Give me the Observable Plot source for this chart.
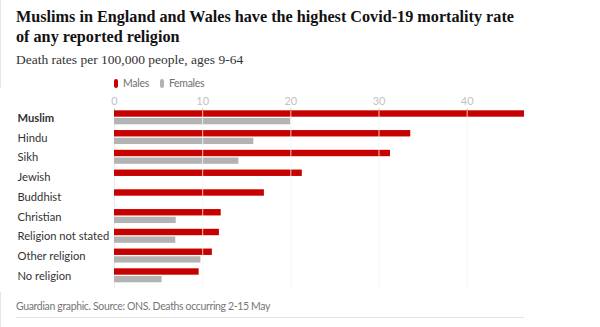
<!DOCTYPE html>
<html><head><meta charset="utf-8">
<script src="https://cdn.jsdelivr.net/npm/d3@7"></script>
<script src="https://cdn.jsdelivr.net/npm/@observablehq/plot@0.6"></script>
<style>
body{margin:0;background:#fff;}
#wrap{position:relative;width:600px;height:327px;overflow:hidden;background:#fff}
#lborder{position:absolute;left:0;top:0;width:1px;height:327px;background:#e6e6e6}
h1{position:absolute;left:16px;top:7px;margin:0;font:bold 16.2px/20px "Liberation Serif",serif;color:#121212;width:560px}
#sub{position:absolute;left:16px;top:52px;margin:0;font:13.5px/16px "Liberation Serif",serif;color:#333}
#legend{position:absolute;left:114px;top:76px;font:10.5px/14px Lato,sans-serif;color:#707070;display:flex;align-items:center;letter-spacing:-0.3px}
#legend .sw{display:inline-block;width:4px;height:9px;border-radius:2px;margin-right:5px}
#legend .it{display:flex;align-items:center;margin-right:11px}
#chart{position:absolute;left:0;top:88px}
#foot{position:absolute;left:16px;top:299px;font:10.5px/14px Lato,sans-serif;color:#767676;letter-spacing:-0.35px}
#hr{position:absolute;left:16px;top:317px;width:508px;height:1px;background:#e3e3e3}
</style></head>
<body>
<div id="wrap">
<div id="lborder"></div>
<h1>Muslims in England and Wales have the highest Covid-19 mortality rate<br>of any reported religion</h1>
<div id="sub">Death rates per 100,000 people, ages 9-64</div>
<div id="legend"></div>
<div id="chart"></div>
<div id="foot">Guardian graphic. Source: ONS. Deaths occurring 2-15 May</div>
<div id="hr"></div>
</div>
<script>
const religions = ["Muslim","Hindu","Sikh","Jewish","Buddhist","Christian","Religion not stated","Other religion","No religion"];
const males = [46.5,33.6,31.3,21.3,17.0,12.1,11.9,11.1,9.6];
const females = [20.0,15.8,14.1,null,null,7.0,6.95,9.8,5.4];
const seriesNames = ["Males","Females"];
const seriesColors = ["#c70000","#b3b3b3"];
const xTicks = [0,10,20,30,40];

const rows = religions.map((r,i)=>({religion:r, male:males[i], female:females[i]}));

const legend = document.getElementById("legend");
seriesNames.forEach((n,i)=>{
  const it = document.createElement("span"); it.className="it";
  const sw = document.createElement("span"); sw.className="sw"; sw.style.background=seriesColors[i];
  it.appendChild(sw); it.appendChild(document.createTextNode(n));
  legend.appendChild(it);
});

const step = 19.75, mTop = 22.3, mBottom = 4;
const chart = Plot.plot({
  width: 600,
  height: mTop + step*religions.length + mBottom,
  marginLeft: 114, marginRight: 76, marginTop: mTop, marginBottom: mBottom,
  style: {fontFamily: "Lato, sans-serif", background: "#fff"},
  x: {domain: [0, d3.max(males)]},
  y: {domain: religions, padding: 0, round: false, axis: null},
  marks: [
    Plot.ruleX(xTicks, {stroke: "#ececec", strokeWidth: 1}),
    Plot.axisX(xTicks, {anchor: "top", tickSize: 3, tickPadding: 3, color: "#c2c2c2", fontSize: 11, tickFormat: d => d}),
    Plot.barX(rows, {x: "male", y: "religion", fill: seriesColors[0], insetTop: 0, insetBottom: 13.35}),
    Plot.barX(rows.filter(d => d.female != null), {x: "female", y: "religion", fill: seriesColors[1], insetTop: 7.7, insetBottom: 5.75}),
    Plot.ruleX(xTicks.slice(1), {stroke: "#fff", strokeOpacity: 0.75, strokeWidth: 1}),
    Plot.text(rows.filter(d => d.religion === "Muslim"), {y: "religion", text: "religion", frameAnchor: "left", dx: -97, dy: -2.3, textAnchor: "start", fontSize: 11.2, fontWeight: "bold", fill: "#333", letterSpacing: "-0.2px"}),
    Plot.text(rows.filter(d => d.religion !== "Muslim"), {y: "religion", text: "religion", frameAnchor: "left", dx: -97, dy: -2.3, textAnchor: "start", fontSize: 11.2, fill: "#333", letterSpacing: "-0.3px"})
  ]
});
document.getElementById("chart").appendChild(chart);
</script>
</body></html>
